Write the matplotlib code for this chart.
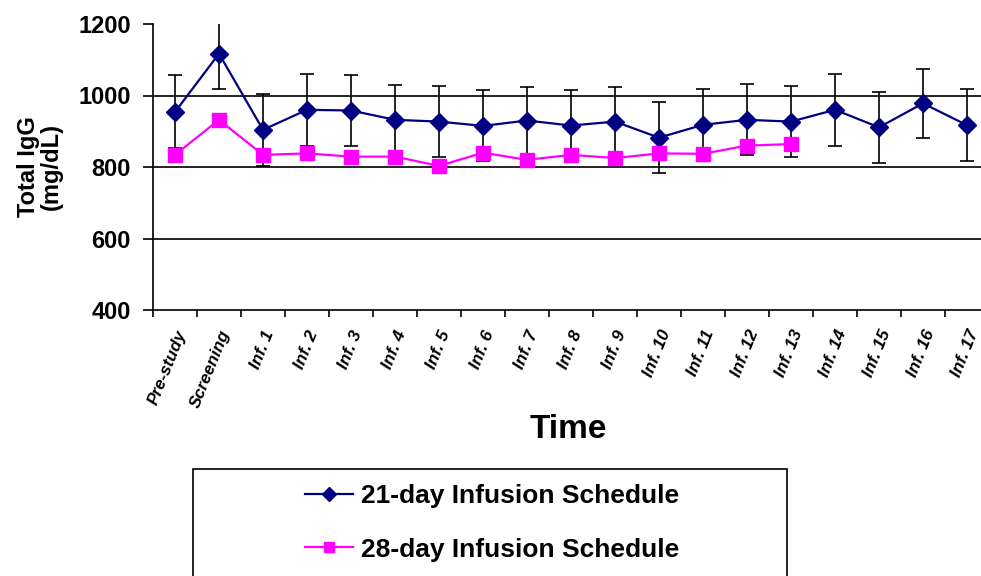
import matplotlib
matplotlib.use('Agg')
import matplotlib.pyplot as plt
import matplotlib.patches as mpatches
import numpy as np

plt.rcParams['font.family'] = ['Liberation Sans', 'DejaVu Sans']

# data
categories = ['Pre-study', 'Screening'] + ['Inf. %d' % i for i in range(1, 18)]
igg_21 = [954, 1117, 904, 960, 958, 932, 927, 915, 930, 916, 927, 882,
          918, 932, 927, 960, 911, 978, 917]
sd_21 = [102, 100, 100, 100, 100, 97, 99, 99, 95, 98, 98, 100,
         100, 99, 99, 100, 100, 97, 100]
igg_28 = [834, 932, 834, 838, 829, 829, 803, 840, 820, 834, 825, 838,
          837, 860, 864]
yticks = [400, 600, 800, 1000, 1200]
gridlines = [600, 800, 1000]

W, H = 981, 576
fig = plt.figure(figsize=(W / 100, H / 100), dpi=100)
ax = fig.add_axes([153 / W, 1 - 310 / H, (989 - 153) / W, (310 - 24) / H])

x = np.arange(len(categories))
for g in gridlines:
    ax.axhline(g, color='black', lw=1.2, zorder=1)

ax.errorbar(x, igg_21, yerr=sd_21, fmt='none', ecolor='black', elinewidth=1.2,
            capsize=5, capthick=1.2, zorder=2)
ax.plot(x, igg_21, color='#000080', marker='D', markersize=9, lw=1.6, zorder=3,
        label='21-day Infusion Schedule')
ax.plot(x[:len(igg_28)], igg_28, color='#FF00FF', marker='s', markersize=9.5, lw=1.6,
        zorder=3, label='28-day Infusion Schedule')

ax.set_xlim(-0.5, len(categories) - 0.5)
ax.set_ylim(400, 1200)
ax.set_yticks(yticks)
ax.set_yticklabels([str(v) for v in yticks], fontsize=17, fontweight='bold')
ax.tick_params(axis='y', length=7, width=1.2, pad=9)

ax.set_xticks(x)
ax.set_xticklabels(categories, fontsize=12.3, fontweight='bold', style='italic',
                   rotation=68, ha='right', va='top', rotation_mode='anchor')
ax.set_xticks(np.arange(-0.5, len(categories)), minor=True)
ax.tick_params(axis='x', which='major', length=0, pad=13)
ax.tick_params(axis='x', which='minor', length=5, width=1.2)

for s in ['top', 'right']:
    ax.spines[s].set_visible(False)
for s in ['left', 'bottom']:
    ax.spines[s].set_linewidth(1.2)

ax.set_ylabel('Total IgG\n(mg/dL)', fontsize=17, fontweight='bold', linespacing=1.0)
ax.yaxis.set_label_coords(-0.108, 0.5)
fig.text(568 / W, 1 - 429 / H, 'Time', fontsize=24, fontweight='bold',
         ha='center', va='center')

# legend box (runs past the bottom edge, as in the reference)
fig.add_artist(mpatches.Rectangle((193 / W, -0.1), (787 - 193) / W, (576 - 469) / H + 0.1,
                                  transform=fig.transFigure, fill=False,
                                  ec='black', lw=1.2))
handles, labels = ax.get_legend_handles_labels()
leg = fig.legend(handles, labels, loc='center', bbox_to_anchor=(492 / W, 1 - 523 / H),
                 frameon=False, prop={'size': 19, 'weight': 'bold'},
                 handlelength=1.8, handletextpad=0.3, labelspacing=1.1, markerscale=0.75)

fig.savefig('out.png', dpi=100)
